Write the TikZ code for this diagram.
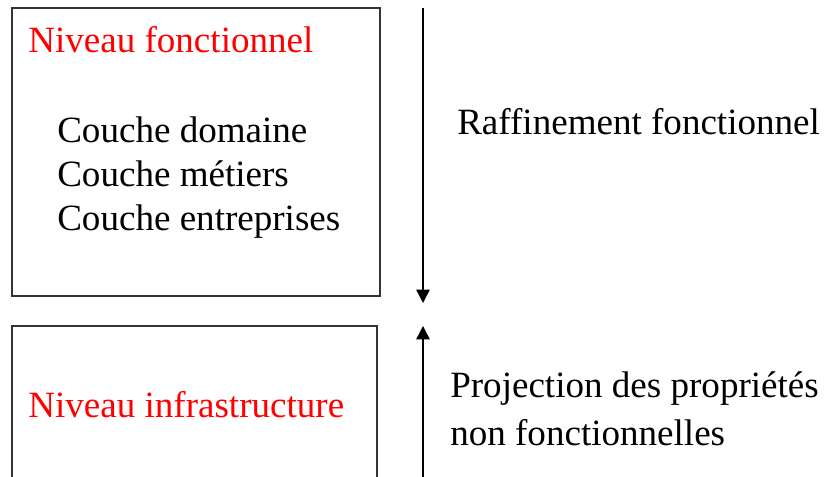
\documentclass[tikz,border=0pt]{standalone}
\usepackage{fontspec}
\setmainfont{Liberation Serif}
\usetikzlibrary{arrows.meta}

\tikzstyle{niveau}= [draw=black!80,line width=1pt]
\tikzstyle{titre}= [anchor=base west,inner sep=0pt,text=red,font=\fontsize{27.8}{33}\selectfont]
\tikzstyle{texte}= [anchor=base west,inner sep=0pt,text=black,font=\fontsize{27.8}{33}\selectfont]
\tikzstyle{fleche}= [black,line width=1.1pt,-{Triangle[length=10pt,width=10pt]}]

\begin{document}
\begin{tikzpicture}[x=0.75pt,y=-0.75pt]
		\useasboundingbox (0,0) rectangle (824,477);
		\clip (0,0) rectangle (824,477);

		% niveau fonctionnel
		\draw[niveau] (12,8) rectangle (380,296);
		\node (nf) at (28,53) [titre] {Niveau fonctionnel};
		\node (c1) at (57,143) [texte] {Couche domaine};
		\node (c2) at (57,187) [texte] {Couche métiers};
		\node (c3) at (57,231) [texte] {Couche entreprises};

		% niveau infrastructure
		\draw[niveau] (12,490) -- (12,326) -- (377,326) -- (377,490);
		\node (ni) at (28,417) [titre] {Niveau infrastructure};

		% fleches
		\coordinate (h1) at (423,8);
		\coordinate (h2) at (423,303);
		\coordinate (b1) at (423,480);
		\coordinate (b2) at (423,326);
		\draw[fleche] (h1) -- (h2);
		\draw[fleche] (b1) -- (b2);

		\node (raf) at (457,135) [texte] {Raffinement fonctionnel};
		\node (proj) at (450,397) [texte] {Projection des propriétés};
		\node (nonf) at (450,445) [texte] {non fonctionnelles};

	\end{tikzpicture}
\end{document}
